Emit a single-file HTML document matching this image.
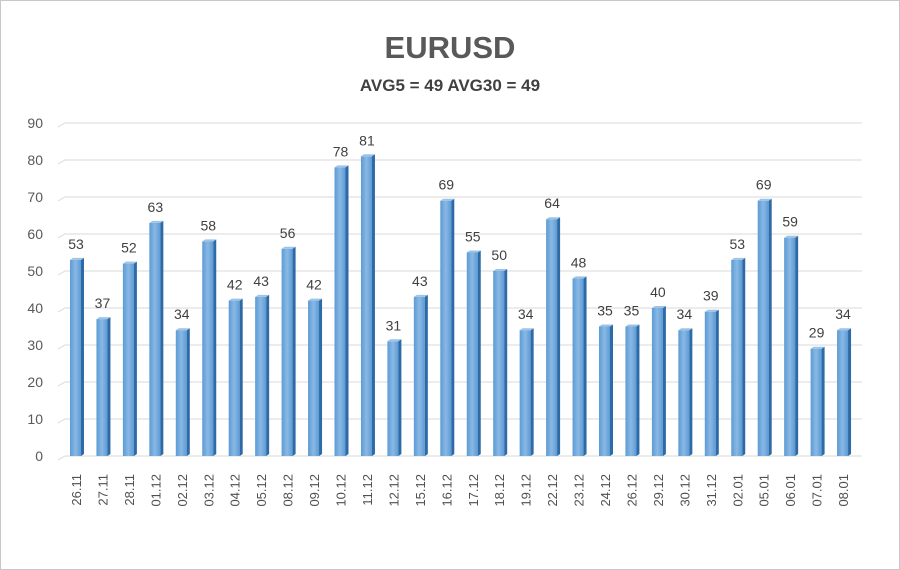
<!DOCTYPE html><html><head><style>body{margin:0;background:#fff}svg{display:block;font-family:"Liberation Sans",sans-serif}</style></head><body>
<svg width="900" height="570" xmlns="http://www.w3.org/2000/svg" id="s">
<defs><linearGradient id="g" x1="0" x2="1"><stop offset="0" stop-color="#5b9bd5"/><stop offset="0.5" stop-color="#8ab8e4"/><stop offset="1" stop-color="#5b9bd5"/></linearGradient></defs>
<rect x="0.5" y="0.5" width="899" height="569" fill="#fff" stroke="#c8c8c8"/>
<text x="450" y="58" text-anchor="middle" font-size="31" font-weight="bold" fill="#595959">EURUSD</text>
<text x="450" y="91" text-anchor="middle" font-size="17" font-weight="bold" fill="#404040">AVG5 = 49 AVG30 = 49</text>
<g id="grid"></g><g id="bars"></g>
</svg>
<script>
const v=[53,37,52,63,34,58,42,43,56,42,78,81,31,43,69,55,50,34,64,48,35,35,40,34,39,53,69,59,29,34];
const d=["26.11","27.11","28.11","01.12","02.12","03.12","04.12","05.12","08.12","09.12","10.12","11.12","12.12","15.12","16.12","17.12","18.12","19.12","22.12","23.12","24.12","26.12","29.12","30.12","31.12","02.01","05.01","06.01","07.01","08.01"];
const y0=456,k=3.7;let g="",b="";
for(let i=0;i<=9;i++){const y=y0-i*10*k;g+=`<polyline points="58,${y+4} 65,${y} 862,${y}" fill="none" stroke="#d9d9d9"/><text x="43" y="${y+5}" text-anchor="end" font-size="14" fill="#595959">${i*10}</text>`;}
for(let i=0;i<30;i++){const x=70+i*26.45,h=v[i]*k,t=y0-h;
b+=`<rect x="${x}" y="${t}" width="11" height="${h}" fill="url(#g)"/><polygon points="${x+11},${t} ${x+14},${t-2} ${x+14},${y0-2} ${x+11},${y0}" fill="#2e6aa6"/><polygon points="${x},${t} ${x+3},${t-2} ${x+14},${t-2} ${x+11},${t}" fill="#9cc3e8"/>
<text x="${x+6}" y="${t-11}" text-anchor="middle" font-size="14" fill="#404040">${v[i]}</text>
<text transform="translate(${x+11},474) rotate(-90)" text-anchor="end" font-size="13" fill="#505050">${d[i]}</text>`;}
document.getElementById("grid").innerHTML=g;document.getElementById("bars").innerHTML=b;
</script></body></html>
